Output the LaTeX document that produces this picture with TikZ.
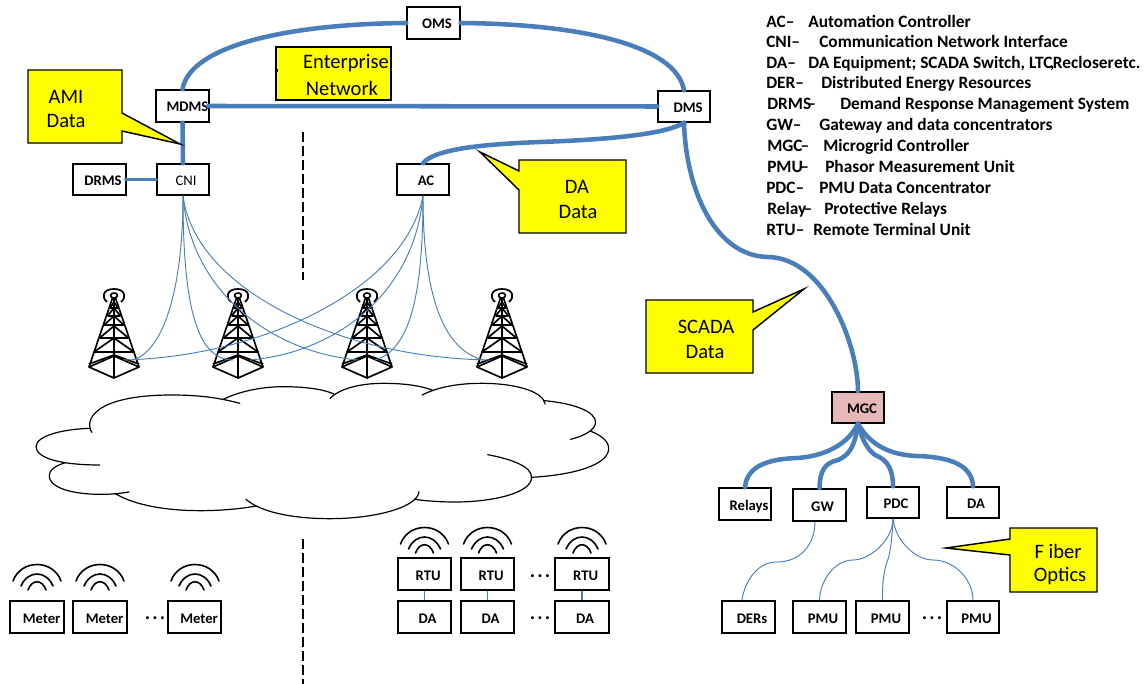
\documentclass[tikz,border=0pt]{standalone}
\usepackage{fontspec}
\setmainfont{Carlito}
\definecolor{linkblue}{HTML}{4A7EBB}
\definecolor{mgcpink}{HTML}{E6B8B7}
\definecolor{callyellow}{HTML}{FFFF00}
\tikzset{
  x=0.75pt,y=-0.75pt,
  boxnode/.style={draw=black,line width=1.1pt,fill=white,inner sep=0pt,font=\fontsize{11pt}{12pt}\bfseries,text height=9pt,text depth=0pt},
  biglink/.style={draw=linkblue,line width=3.4pt,line cap=round},
  midlink/.style={draw=linkblue,line width=2.6pt,line cap=round},
  thinlink/.style={draw=linkblue,line width=0.7pt},
  callout/.style={draw=black,fill=callyellow,line width=1.1pt,line join=miter},
  calltext/.style={font=\fontsize{15.4pt}{17pt}\selectfont,inner sep=0pt},
  legendtext/.style={font=\fontsize{13pt}{15pt}\bfseries,inner sep=0pt,anchor=base west},
  dots/.style={font=\fontsize{15pt}{15pt}\bfseries,inner sep=0pt},
  divider/.style={draw=black,line width=1.5pt,dash pattern=on 7.5pt off 3pt},
  cloudline/.style={draw=black,line width=0.9pt,line cap=round},
  towerline/.style={draw=black,line width=1.25pt,line join=round},
  waveline/.style={draw=black,line width=1.2pt,line cap=round},
}
% name, x1, y1, x2, y2, text shift, text
\newcommand{\pbox}[7]{\node[boxnode,minimum width=#4*0.75pt-#2*0.75pt,minimum height=#5*0.75pt-#3*0.75pt] (#1) at ({(#2+#4)/2},{(#3+#5)/2}) {\hspace*{#6\dimexpr1.5pt\relax}#7};}
\newcommand{\tower}[1]{%
\begin{scope}[shift={(#1,298)}]
 \draw[towerline] (-25,69)--(-1.5,0)--(1.5,0)--(25,69);
 \draw[towerline] (0,0)--(0,80);
 \draw[towerline] (-25,69)--(0,80)--(25,69)--(0,58)--cycle;
 \draw[towerline] (-25,66)--(0,57)--(25,66);
 \draw[towerline] (-20,54)--(20,54) (-20,54)--(0,40)--(20,54);
 \draw[towerline] (-14.5,40)--(14.5,40) (-14.5,40)--(0,28)--(14.5,40);
 \draw[towerline] (-10,27)--(10,27) (-10,27)--(0,18)--(10,27);
 \draw[towerline] (-6.5,18)--(6.5,18) (-6.5,18)--(0,10)--(6.5,18);
 \draw[towerline] (-4,10)--(4,10) (-4,10)--(0,4)--(4,10);
 \draw[towerline] (0,-2.5) ellipse [x radius=3.5,y radius=2.5];
 \draw[towerline,line width=1.3pt] (-7,4) .. controls (-13,-1) and (-11,-9) .. (0,-9) .. controls (11,-9) and (13,-1) .. (7,4);
\end{scope}}
\newcommand{\waves}[2]{%
\begin{scope}[shift={(#1,#2)}]
 \draw[waveline] (-24,17) .. controls (-16,-5) and (16,-5) .. (24,17);
 \draw[waveline] (-16,22) .. controls (-9,6) and (9,6) .. (16,22);
 \draw[waveline] (-9,26) .. controls (-5,15) and (5,15) .. (9,26);
\end{scope}}
\newcommand{\legendline}[6]{%
 \node[legendtext] (#1a) at (#2,#3) {#4};
 \node[legendtext] (#1b) at (#5,#3) {#6};}
\newcommand{\threedots}{.\kern1.6pt.\kern1.6pt.}
\begin{document}
\begin{tikzpicture}
\useasboundingbox (0,0) rectangle (1146,684);
\fill[white] (0,0) rectangle (1146,684);

% dividers
\coordinate (divAtop) at (303,132); \coordinate (divAbot) at (303,280);
\coordinate (divBtop) at (303,539); \coordinate (divBbot) at (303,684);
\draw[divider] (divAtop)--(divAbot);
\draw[divider] (divBtop)--(divBbot);

% towers
\tower{114}\tower{238}\tower{367}\tower{502}

% cloud
\begin{scope}[shift={(0,370)},x=0.3074pt,y=-0.25pt]
 \draw[cloudline] (224,187) .. controls (205,150) and (230,75) .. (420,75) .. controls (490,75) and (540,85) .. (585,100);
 \draw[cloudline] (545,88) .. controls (590,60) and (650,50) .. (690,50) .. controls (745,50) and (790,58) .. (815,72);
 \draw[cloudline] (805,85) .. controls (830,55) and (880,40) .. (935,40) .. controls (990,40) and (1030,48) .. (1058,62);
 \draw[cloudline] (1030,75) .. controls (1070,50) and (1120,40) .. (1175,40) .. controls (1260,40) and (1325,65) .. (1330,102);
 \draw[cloudline] (1328,92) .. controls (1400,100) and (1455,125) .. (1453,158) .. controls (1452,180) and (1425,198) .. (1392,208);
 \draw[cloudline] (1440,183) .. controls (1470,198) and (1486,215) .. (1485,238) .. controls (1482,285) and (1400,315) .. (1296,322);
 \draw[cloudline] (1190,254) .. controls (1250,268) and (1297,290) .. (1297,322) .. controls (1297,370) and (1200,396) .. (1110,396) .. controls (1075,396) and (1040,393) .. (1012,388);
 \draw[cloudline] (1022,365) .. controls (1020,410) and (920,446) .. (805,446) .. controls (710,446) and (635,425) .. (600,388);
 \draw[cloudline] (625,408) .. controls (585,417) and (535,422) .. (490,422) .. controls (390,422) and (320,400) .. (280,370);
 \draw[cloudline] (315,366) .. controls (290,371) and (270,373) .. (245,373) .. controls (170,373) and (120,350) .. (120,318) .. controls (120,300) and (135,287) .. (160,278);
 \draw[cloudline] (243,285) .. controls (150,285) and (88,265) .. (88,230) .. controls (88,198) and (150,178) .. (218,175);
\end{scope}

% boxes
\pbox{oms}{407}{7}{460}{39}{3.5}{OMS}
\pbox{mdms}{156}{90}{209}{122}{5}{MDMS}
\pbox{cni}{157}{164}{209}{195}{3}{\mdseries CNI}
\pbox{drms}{73}{164}{126}{195}{3.5}{DRMS}
\pbox{ac}{397}{164}{449}{195}{3}{AC}
\pbox{dms}{658}{91}{710}{122}{4}{DMS}
\node[boxnode,fill=mgcpink,minimum width=39pt,minimum height=23.25pt] (mgc) at (858,407.5) {\hspace*{6pt}MGC};
\pbox{relays}{719}{488}{771}{520}{4}{Relays}
\pbox{gw}{793}{489}{846}{521}{3}{GW}
\pbox{pdc}{867}{487}{919}{518}{3}{PDC}
\pbox{daf}{947}{487}{999}{518}{3}{DA}
\pbox{ders}{722}{601}{775}{633}{3.5}{DERs}
\pbox{pmua}{793}{601}{846}{633}{3.5}{PMU}
\pbox{pmub}{856}{601}{909}{633}{3.5}{PMU}
\pbox{pmuc}{947}{601}{999}{633}{3.5}{PMU}
\pbox{metera}{10}{601}{64}{633}{4.6}{Meter}
\pbox{meterb}{73}{601}{127}{633}{4.6}{Meter}
\pbox{meterc}{168}{601}{221}{633}{4.6}{Meter}
\pbox{rtua}{398}{558}{451}{590}{3.7}{RTU}
\pbox{rtub}{461}{558}{514}{590}{3.7}{RTU}
\pbox{rtuc}{555}{558}{609}{590}{3.7}{RTU}
\pbox{daa}{398}{601}{451}{633}{3}{DA}
\pbox{dab}{461}{601}{514}{633}{3}{DA}
\pbox{dac}{555}{601}{609}{633}{3}{DA}

% ellipses
\node[dots] (dotsm) at (155,618) {\threedots};
\node[dots] (dotsr) at (540,576) {\threedots};
\node[dots] (dotsd) at (540,618) {\threedots};
\node[dots] (dotsp) at (932,618) {\threedots};

% waves
\waves{37}{564}\waves{100}{564}\waves{195}{564}
\waves{424.5}{527}\waves{487.5}{527}\waves{582}{527}

% thick links
\draw[biglink] (oms.west) .. controls (290,24) and (190,45) .. (mdms.north);
\draw[biglink] (oms.east) .. controls (580,24) and (676,45) .. (dms.north);
\draw[biglink] ([xshift=-1pt]mdms.east) -- (dms.west);
\draw[biglink] (mdms.south) -- (cni.north);
\draw[midlink] ([xshift=-1pt]drms.east) -- (cni.west);
\draw[biglink] (ac.north) .. controls (435,148) and (490,144) .. (540,142) .. controls (600,140) and (665,135) .. (dms.south);
\draw[biglink] (dms.south) .. controls (686,190) and (715,256) .. (768,257) .. controls (825,258) and (858,345) .. (mgc.north);
\draw[biglink] (mgc.south) .. controls (845,450) and (815,457) .. (797,458) .. controls (770,459) and (747,465) .. (relays.north);
\draw[biglink] (mgc.south) .. controls (855,445) and (850,455) .. (838,460) .. controls (825,463) and (820,470) .. (gw.north);
\draw[biglink] (mgc.south) .. controls (862,440) and (868,450) .. (875,455) .. controls (888,460) and (893,470) .. (pdc.north);
\draw[biglink] (mgc.south) .. controls (870,445) and (890,455) .. (917,456) .. controls (950,457) and (972,465) .. (daf.north);

% thin links
\coordinate (ta) at (133,360); \coordinate (tb) at (233,360); \coordinate (tc) at (358,360); \coordinate (td) at (490,360);
\coordinate (te) at (123,360); \coordinate (tf) at (250,360); \coordinate (tg) at (375,360); \coordinate (th) at (483,360);
\draw[thinlink] (cni.south) .. controls (183,285) and (165,350) .. (ta);
\draw[thinlink] (cni.south) .. controls (183,300) and (195,360) .. (tb);
\draw[thinlink] (cni.south) .. controls (190,290) and (270,352) .. (tc);
\draw[thinlink] (cni.south) .. controls (195,290) and (340,358) .. (td);
\draw[thinlink] (ac.south) .. controls (405,290) and (260,357) .. (te);
\draw[thinlink] (ac.south) .. controls (415,290) and (340,352) .. (tf);
\draw[thinlink] (ac.south) .. controls (423,295) and (410,350) .. (tg);
\draw[thinlink] (ac.south) .. controls (423,300) and (445,350) .. (th);
\coordinate (gwdown) at ([xshift=-3.4pt]gw.south);
\coordinate (dersup) at ([xshift=-4.9pt]ders.north);
\draw[thinlink] (gwdown) .. controls (815,545) and (800,562) .. (777,562) .. controls (755,562) and (744,585) .. (dersup);
\draw[thinlink] (pdc.south) .. controls (893,540) and (870,560) .. (853,560) .. controls (835,560) and (820,580) .. (pmua.north);
\draw[thinlink] (pdc.south) .. controls (892,540) and (890,555) .. (887,562) .. controls (884,570) and (882,585) .. (pmub.north);
\draw[thinlink] (pdc.south) .. controls (895,540) and (915,560) .. (933,560) .. controls (955,560) and (973,580) .. (pmuc.north);
\draw[thinlink,line width=1pt] (rtua.south) -- (daa.north);
\draw[thinlink,line width=1pt] (rtub.south) -- (dab.north);
\draw[thinlink,line width=1pt] (rtuc.south) -- (dac.north);

% callouts
\draw[callout] (28,70)--(122,70)--(122,113)--(180,144)--(122,131)--(122,143)--(28,143)--cycle;
\node[calltext] (amia) at (66,97) {AMI};
\node[calltext] (amib) at (66,121) {Data};
\draw[callout] (276,47)--(391,47)--(391,100)--(276,100)--cycle;
\fill[black] (274.5,69) rectangle (277.5,72);
\node[calltext] (enta) at (346,63) {Enterprise};
\node[calltext] (entb) at (342,88) {Network};
\draw[callout] (519,160)--(626,160)--(626,233)--(519,233)--(519,190)--(480,152)--(519,171)--cycle;
\node[calltext] (daca) at (577,187) {DA};
\node[calltext] (dacb) at (578,212) {Data};
\draw[callout] (646,300)--(753,300)--(753,312)--(804,289)--(753,330)--(753,373)--(646,373)--cycle;
\node[calltext] (scaa) at (706,327) {SCADA};
\node[calltext] (scab) at (705,352) {Data};
\draw[callout] (1010,528)--(1097,528)--(1097,592)--(1010,592)--(1010,555)--(946,548)--(1010,539)--cycle;
\node[calltext] (fiba) at (1058,551) {F iber};
\node[calltext] (fibb) at (1060,576) {Optics};

% legend
\legendline{la}{766}{28}{AC–}{808}{Automation Controller}
\legendline{lb}{766}{48}{CNI–}{819}{Communication Network Interface}
\legendline{lc}{766}{69}{DA–}{808}{DA Equipment; SCADA Switch, LTC\kern-2pt,\kern-1pt Recloser\kern0.3pt etc.}
\legendline{ld}{766}{89}{DER–}{821}{Distributed Energy Resources}
\legendline{le}{767}{110}{DRMS\kern-3pt–}{840}{Demand Response Management System}
\legendline{lf}{766}{131}{GW–}{819}{Gateway and data concentrators}
\legendline{lg}{767}{152}{MGC\kern-1.5pt–}{823}{Microgrid Controller}
\legendline{lh}{767}{173}{PMU\kern-2pt–}{825}{Phasor Measurement Unit}
\legendline{li}{766}{194}{PDC–}{819}{PMU Data Concentrator}
\legendline{lj}{767}{215}{Relay\kern-2pt–}{824}{Protective Relays}
\legendline{lk}{766}{236}{RTU–}{813}{Remote Terminal Unit}
\end{tikzpicture}
\end{document}
